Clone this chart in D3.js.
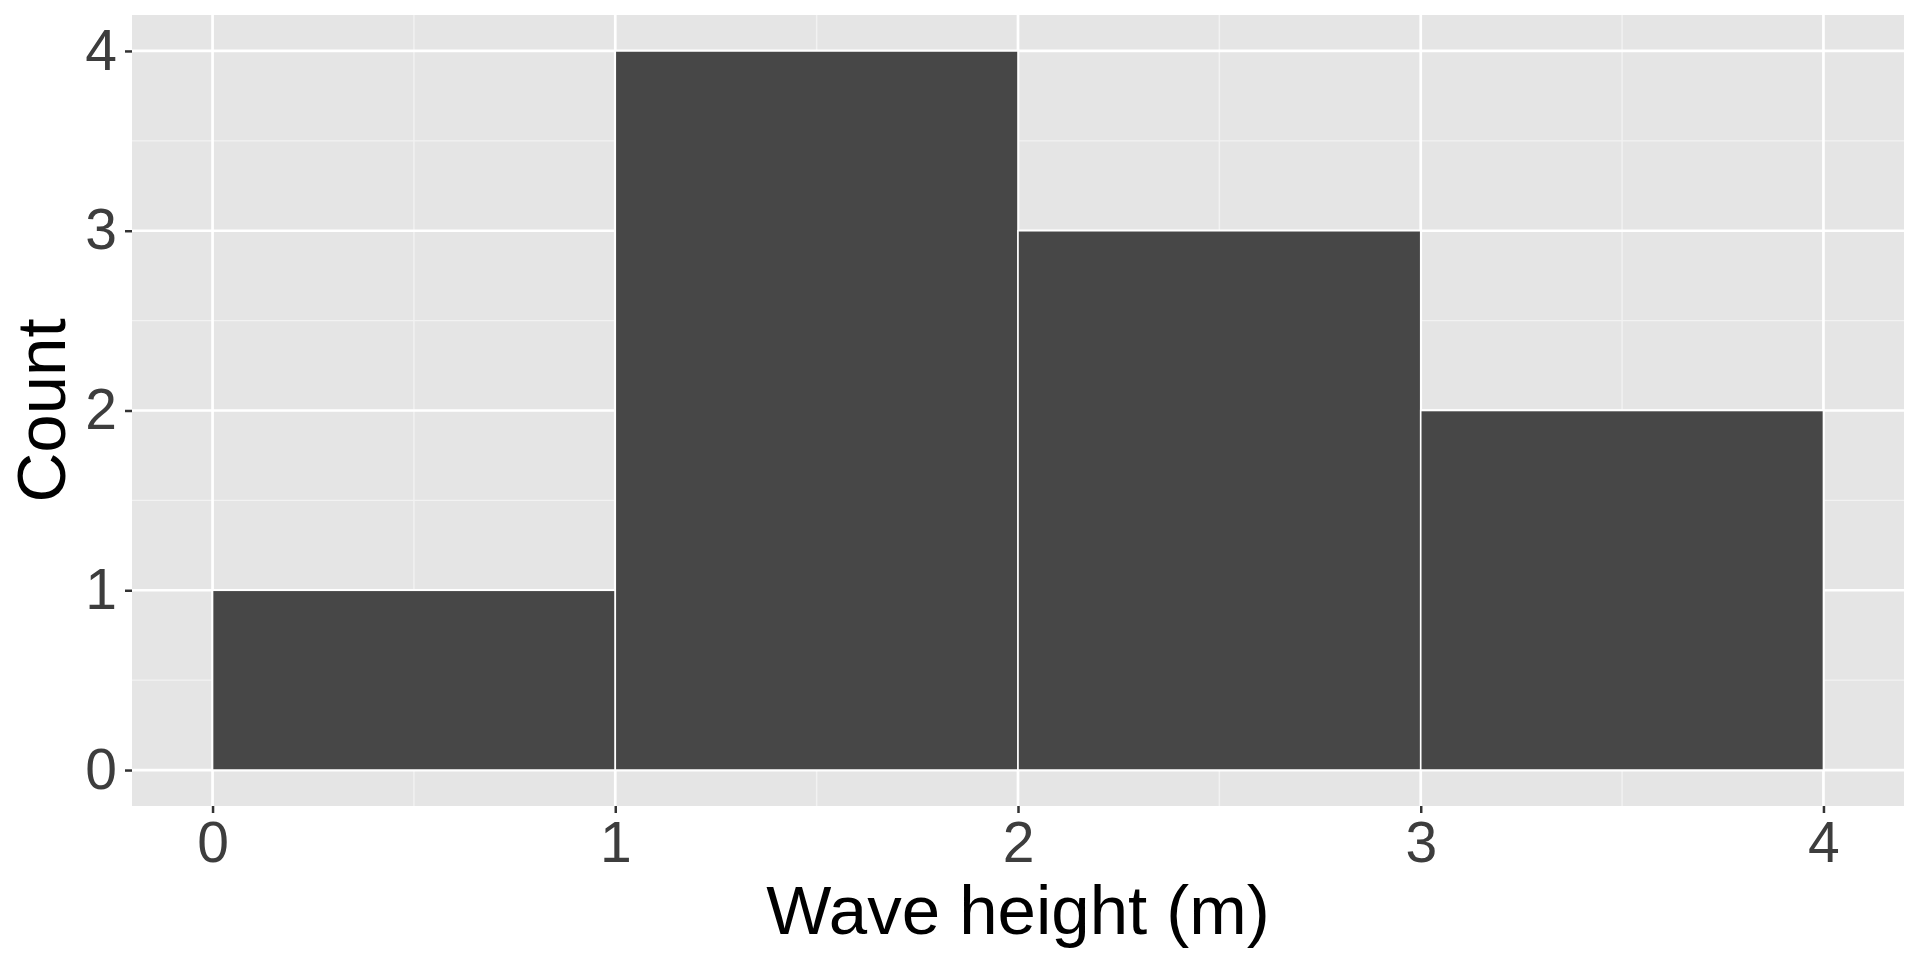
<!DOCTYPE html>
<html lang="en">
<head>
  <meta charset="UTF-8" />
  <title>Wave height histogram</title>
  <script src="https://d3js.org/d3.v7.min.js"></script>
  <style>
    body { margin: 0; background: #fff; }
    text { font-family: "Liberation Sans", Arial, sans-serif; }
  </style>
</head>
<body>
<script>

// histogram bins (lower edge, upper edge) and counts
var binStart = [0, 1, 2, 3];
var binEnd   = [1, 2, 3, 4];
var counts   = [1, 4, 3, 2];

var xTicks = [0, 1, 2, 3, 4];
var yTicks = [0, 1, 2, 3, 4];
var xMinor = [0.5, 1.5, 2.5, 3.5];
var yMinor = [0.5, 1.5, 2.5, 3.5];

var xTitle = "Wave height (m)";
var yTitle = "Count";

var W = 1920, H = 960;
var panel = {left: 132, top: 15, right: 1904, bottom: 806};

var svg = d3.select("body").append("svg")
  .attr("width", W)
  .attr("height", H);

// ggplot style 5% expansion
var x = d3.scaleLinear().domain([-0.2, 4.2]).range([panel.left, panel.right]);
var y = d3.scaleLinear().domain([-0.2, 4.2]).range([panel.bottom, panel.top]);

// panel background
svg.append("rect")
  .attr("x", panel.left)
  .attr("y", panel.top)
  .attr("width", panel.right - panel.left)
  .attr("height", panel.bottom - panel.top)
  .attr("fill", "#e5e5e5");

// minor grid
svg.append("g").selectAll("line").data(xMinor).enter().append("line")
  .attr("x1", function(d) { return x(d); }).attr("x2", function(d) { return x(d); })
  .attr("y1", panel.top).attr("y2", panel.bottom)
  .attr("stroke", "#f2f2f2").attr("stroke-width", 1.4);
svg.append("g").selectAll("line").data(yMinor).enter().append("line")
  .attr("y1", function(d) { return y(d); }).attr("y2", function(d) { return y(d); })
  .attr("x1", panel.left).attr("x2", panel.right)
  .attr("stroke", "#f2f2f2").attr("stroke-width", 1.4);

// major grid
svg.append("g").selectAll("line").data(xTicks).enter().append("line")
  .attr("x1", function(d) { return x(d); }).attr("x2", function(d) { return x(d); })
  .attr("y1", panel.top).attr("y2", panel.bottom)
  .attr("stroke", "#fff").attr("stroke-width", 2.7);
svg.append("g").selectAll("line").data(yTicks).enter().append("line")
  .attr("y1", function(d) { return y(d); }).attr("y2", function(d) { return y(d); })
  .attr("x1", panel.left).attr("x2", panel.right)
  .attr("stroke", "#fff").attr("stroke-width", 2.7);

// bars
svg.append("g").selectAll("rect").data(counts).enter().append("rect")
  .attr("x", function(d, i) { return x(binStart[i]); })
  .attr("width", function(d, i) { return x(binEnd[i]) - x(binStart[i]); })
  .attr("y", function(d) { return y(d); })
  .attr("height", function(d) { return y(0) - y(d); })
  .attr("fill", "#474747")
  .attr("stroke", "#fff")
  .attr("stroke-width", 1.6);

// x axis
var xAxis = d3.axisBottom(x).tickValues(xTicks).tickSize(7).tickPadding(9)
  .tickFormat(d3.format("d"));
var gx = svg.append("g")
  .attr("transform", "translate(0," + panel.bottom + ")")
  .call(xAxis);
gx.select(".domain").remove();
gx.selectAll(".tick line").attr("stroke", "#333").attr("stroke-width", 2.5);
gx.selectAll(".tick text")
  .attr("font-size", 57)
  .attr("fill", "#3d3d3d")
  .attr("font-family", "Liberation Sans, Arial, sans-serif");

// y axis
var yAxis = d3.axisLeft(y).tickValues(yTicks).tickSize(7).tickPadding(8)
  .tickFormat(d3.format("d"));
var gy = svg.append("g")
  .attr("transform", "translate(" + panel.left + ",0)")
  .call(yAxis);
gy.select(".domain").remove();
gy.selectAll(".tick line").attr("stroke", "#333").attr("stroke-width", 2.5);
gy.selectAll(".tick text")
  .attr("font-size", 57)
  .attr("fill", "#3d3d3d")
  .attr("font-family", "Liberation Sans, Arial, sans-serif");

// axis titles
svg.append("text")
  .attr("x", (panel.left + panel.right) / 2)
  .attr("y", 934)
  .attr("text-anchor", "middle")
  .attr("font-size", 69)
  .attr("fill", "#000")
  .text(xTitle);

svg.append("text")
  .attr("transform", "translate(65," + (panel.top + panel.bottom) / 2 + ") rotate(-90)")
  .attr("text-anchor", "middle")
  .attr("font-size", 69)
  .attr("fill", "#000")
  .text(yTitle);

</script>
</body>
</html>
